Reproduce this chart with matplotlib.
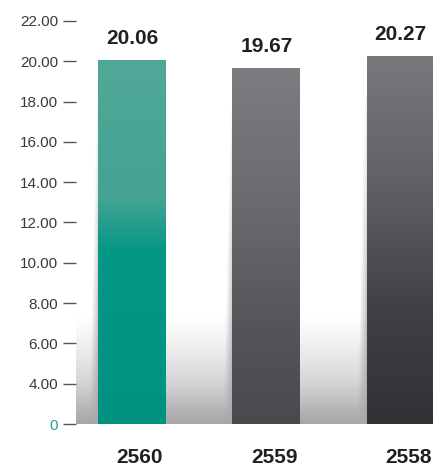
import numpy as np
import matplotlib
matplotlib.use("Agg")
import matplotlib.pyplot as plt
from matplotlib.colors import LinearSegmentedColormap, to_rgb
import matplotlib.transforms as mtransforms

plt.rcParams['font.family'] = ['Liberation Sans', 'DejaVu Sans']

# data
years = ['2560', '2559', '2558']
values = [20.06, 19.67, 20.27]
tick_pos = [2, 4, 6, 8, 10, 12, 14, 16, 18, 20, 22]
tick_labels = ['0', '4.00', '6.00', '8.00', '10.00', '12.00', '14.00',
               '16.00', '18.00', '20.00', '22.00']

# colour stops for each bar, top -> bottom
bar_stops = [
    [(0.0, '#50a898'), (0.38, '#44a393'), (0.52, '#069886'), (1.0, '#009280')],
    [(0.0, '#7d7c81'), (0.4, '#6a696e'), (0.75, '#545358'), (1.0, '#4a494e')],
    [(0.0, '#79787c'), (0.35, '#626065'), (0.7, '#423f44'), (1.0, '#343136')],
]

fig = plt.figure(figsize=(4.33, 4.70), dpi=100)
ax = fig.add_axes([76 / 433, 46 / 470, 1 - 76 / 433, 424 / 470])

x = np.arange(len(years))
width = 0.505
ax.set_xlim(-0.416, 2.24)
ax.set_ylim(2, 23.04)

# soft grey floor behind the bars
fog = LinearSegmentedColormap.from_list(
    'fog', [(0, '#ffffff'), (0.2, '#f6f5f6'), (0.6, '#d8d6d8'), (1, '#a8a5a8')])
grad = np.linspace(0, 1, 256).reshape(-1, 1)
ax.imshow(grad, cmap=fog, aspect='auto', extent=(-0.42, 2.3, 2, 7.4),
          origin='upper', zorder=0, interpolation='bicubic')

# tapered reflection strip image (rgba)
n, m = 200, 40
t = np.linspace(0, 1, n).reshape(-1, 1)
s = np.linspace(0, 1, m).reshape(1, -1)
w = 0.25 + 0.75 * t
strip_alpha = np.clip((s - (1 - w)) / w, 0, 1) * (0.15 + 0.85 * t)
strip = np.zeros((n, m, 4))
strip[..., :3] = to_rgb('#aca8ac')
strip[..., 3] = strip_alpha

bars = ax.bar(x, values, width=width, bottom=0, color='none', zorder=2)
for bar, stops, v in zip(bars, bar_stops, values):
    cmap = LinearSegmentedColormap.from_list('b', stops)
    x0 = bar.get_x()
    img = ax.imshow(grad, cmap=cmap, aspect='auto',
                    extent=(x0, x0 + width, 2, v), origin='upper',
                    zorder=2, interpolation='bicubic')
    img.set_clip_path(bar)
    ax.imshow(strip, aspect='auto', extent=(x0 - 0.07, x0, 2, v - 2.0),
              zorder=1, interpolation='bilinear')
    ax.text(bar.get_x() + width / 2, v + 0.6, f'{v:.2f}', ha='center',
            va='bottom', fontsize=15, fontweight='bold', color='#231f20')

ax.set_xticks(x)
ax.set_xticklabels(years, fontsize=15, fontweight='bold', color='#231f20')
ax.tick_params(axis='x', length=0, pad=17)
shift = mtransforms.ScaledTranslation(8 / 100, 0, fig.dpi_scale_trans)
for lab in ax.get_xticklabels():
    lab.set_transform(lab.get_transform() + shift)

ax.set_yticks(tick_pos)
ax.set_yticklabels(tick_labels, fontsize=11, color='#3a3a3a')
ax.get_yticklabels()[0].set_color('#1aa595')
ax.tick_params(axis='y', length=9.4, width=1.0, color='#555555', pad=3.6)

for sp in ax.spines.values():
    sp.set_visible(False)
ax.set_facecolor('white')

fig.savefig('out.png', dpi=100)
